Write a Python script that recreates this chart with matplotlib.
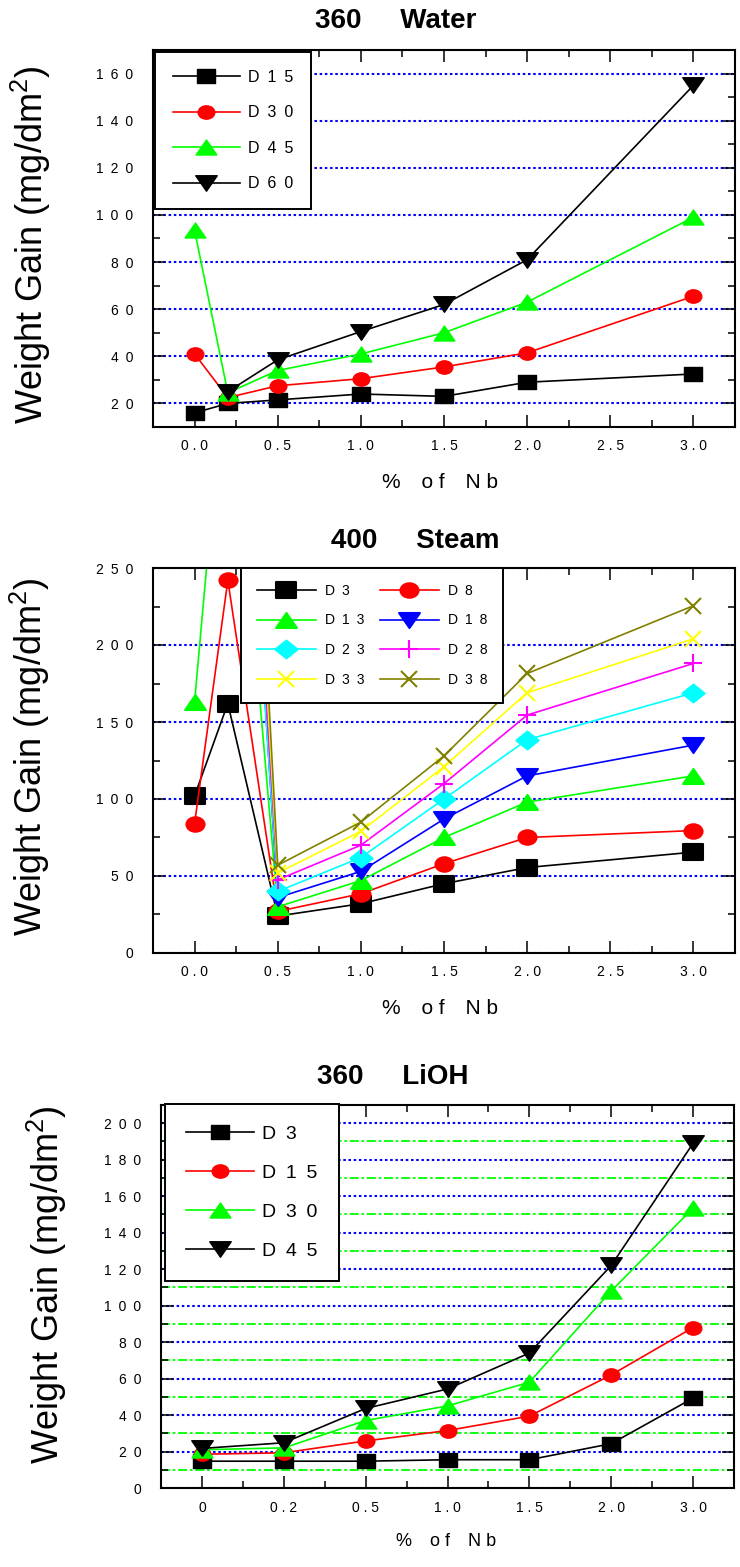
import numpy as np
import matplotlib
matplotlib.use("Agg")
import matplotlib.pyplot as plt
from matplotlib.markers import MarkerStyle
from matplotlib.path import Path
from matplotlib.ticker import MultipleLocator, FixedLocator, FuncFormatter

plt.rcParams['font.family'] = ['Liberation Sans', 'DejaVu Sans']
plt.rcParams['mathtext.fontset'] = 'custom'
plt.rcParams['mathtext.rm'] = 'Liberation Sans'

W, H = 740, 1567
nan = np.nan

# 360 C water
water_nb = [0.0, 0.2, 0.5, 1.0, 1.5, 2.0, 3.0]
water_labels = ['D15', 'D30', 'D45', 'D60']
water_d15 = [16, 20, 21.5, 24, 23, 29, 32.5]
water_d30 = [41, 22.5, 27.5, 30.5, 35.5, 41.5, 65.5]
water_d45 = [93.5, 24.5, 34, 41, 50, 63, 99]
water_d60 = [nan, 25, 38.5, 50.5, 62, 81, 155]

# 400 C steam
steam_nb = [0.0, 0.2, 0.5, 1.0, 1.5, 2.0, 3.0]
steam_labels = ['D3', 'D8', 'D13', 'D18', 'D23', 'D28', 'D33', 'D38']
steam_d3 = [102, 162, 24, 32, 45, 55.5, 65.5]
steam_d8 = [84, 242, 27, 38.5, 58, 75, 79.5]
steam_d13 = [163, 405, 30, 47, 75, 98, 115]
steam_d18 = [nan, 540, 36, 53, 87, 115, 135]
steam_d23 = [nan, 520, 40, 62, 100, 138.5, 169]
steam_d28 = [nan, 560, 47.5, 70, 110, 154.5, 188]
steam_d33 = [nan, 610, 52, 79, 121, 169, 204]
steam_d38 = [nan, 660, 57, 85, 128, 181.5, 225.5]

# 360 C LiOH
lioh_nb = ['0', '0.2', '0.5', '1.0', '1.5', '2.0', '3.0']
lioh_labels = ['D3', 'D15', 'D30', 'D45']
lioh_d3 = [14.7, 14.7, 14.7, 15.5, 15.5, 24.3, 49.3]
lioh_d15 = [18.5, 19.3, 25.8, 31.5, 39.4, 62, 88]
lioh_d30 = [21, 22, 37, 45, 58, 108, 153.5]
lioh_d45 = [21.7, 24.8, 43.6, 54.3, 74, 122, 189]


def fx(px):
    return px / W


def fy(py):
    return 1 - py / H


def squash(m, ry=0.75):
    """Marker path flattened vertically (the original markers are wider than tall)."""
    ms = MarkerStyle(m)
    p = ms.get_path().transformed(ms.get_transform())
    return Path(p.vertices * [1, ry], p.codes)


SQ = squash('s', 0.78)
CI = squash('o', 0.8)
UP = squash('^', 0.72)
DN = squash('v', 0.72)
DI = squash('D', 0.8)


def spaced(s, sep='\u2002'):
    return sep.join(s)


def style_axes(ax, labelsize=10):
    for sp in ax.spines.values():
        sp.set_linewidth(1.5)
    ax.tick_params(which='both', direction='in', top=True, right=True,
                   width=1.1, labelsize=labelsize)
    ax.tick_params(which='major', length=8.5)
    ax.tick_params(which='minor', length=5)
    ax.tick_params(axis='y', pad=14)
    ax.tick_params(axis='x', pad=9)
    ax.yaxis.set_major_formatter(FuncFormatter(lambda v, p: spaced(f"{v:g}")))


def blue_grid(ax, which='major'):
    ax.grid(True, axis='y', which=which, color='#0000ff', lw=1.5,
            linestyle=(0, (1.2, 1.3)))


fig = plt.figure(figsize=(W / 100, H / 100), dpi=100)

ylab = 'Weight Gain (mg/dm$^\\mathrm{2}$)'
xlab = '%\u2003o f\u2003N b'

# ---------------- 360 Water ----------------
ax1 = fig.add_axes([fx(153), fy(427), fx(582), 377 / H])
series = [(water_d15, 'k', SQ, 13), (water_d30, '#ff0000', CI, 12),
          (water_d45, '#00ff00', UP, 15), (water_d60, 'k', DN, 15.5)]
for (vals, c, m, ms), lab in zip(series, water_labels):
    ax1.plot(water_nb, vals, color=c, lw=1.2, marker=m, ms=ms, mfc=c, mec=c,
             label=spaced(lab))
ax1.set_xlim(-0.25, 3.25)
ax1.set_ylim(10, 170)
ax1.xaxis.set_major_locator(MultipleLocator(0.5))
ax1.xaxis.set_minor_locator(MultipleLocator(0.25))
ax1.yaxis.set_major_locator(MultipleLocator(20))
ax1.yaxis.set_minor_locator(MultipleLocator(10))
ax1.xaxis.set_major_formatter(FuncFormatter(lambda v, p: spaced(f"{v:.1f}", ' ')))
style_axes(ax1)
blue_grid(ax1)
leg = ax1.legend(loc='upper left', bbox_to_anchor=(fx(155), fy(52)),
                 bbox_transform=fig.transFigure, borderaxespad=0,
                 fontsize=11.5, handlelength=4.2, handletextpad=0.5,
                 labelspacing=1.29, borderpad=1.1, fancybox=False,
                 framealpha=1, edgecolor='k', numpoints=1)
leg.get_frame().set_linewidth(1.4)
fig.text(fx(396), fy(21), '360     Water', ha='center', va='center',
         fontsize=20, fontweight='bold')
fig.text(fx(31), fy(245), ylab, rotation=90, ha='center', va='center', fontsize=26)
fig.text(fx(440), fy(482), xlab, ha='center', va='center', fontsize=15)

# ---------------- 400 Steam ----------------
ax2 = fig.add_axes([fx(153), fy(953), fx(582), 385 / H])
series = [(steam_d3, 'k', SQ, 14), (steam_d8, '#ff0000', CI, 13),
          (steam_d13, '#00ff00', UP, 15), (steam_d18, '#0000ff', DN, 15),
          (steam_d23, '#00ffff', DI, 16), (steam_d28, '#ff00ff', '+', 13),
          (steam_d33, '#ffff00', 'x', 12), (steam_d38, '#808000', 'x', 12)]
handles = []
for (vals, c, m, ms), lab in zip(series, steam_labels):
    h, = ax2.plot(steam_nb, vals, color=c, lw=1.2, marker=m, ms=ms, mfc=c,
                  mec=c, mew=1.5, label=spaced(lab))
    handles.append(h)
ax2.set_xlim(-0.25, 3.25)
ax2.set_ylim(0, 250)
ax2.xaxis.set_major_locator(MultipleLocator(0.5))
ax2.xaxis.set_minor_locator(MultipleLocator(0.25))
ax2.yaxis.set_major_locator(MultipleLocator(50))
ax2.yaxis.set_minor_locator(MultipleLocator(25))
ax2.xaxis.set_major_formatter(FuncFormatter(lambda v, p: spaced(f"{v:.1f}", ' ')))
style_axes(ax2)
blue_grid(ax2)
order = handles[0::2] + handles[1::2]
leg = ax2.legend(order, [h.get_label() for h in order], ncol=2,
                 loc='upper left', bbox_to_anchor=(fx(241), fy(568)),
                 bbox_transform=fig.transFigure, borderaxespad=0,
                 fontsize=10, handlelength=4.3, handletextpad=0.6,
                 labelspacing=1.14, borderpad=1.12, columnspacing=1.1,
                 fancybox=False, framealpha=1, edgecolor='k', numpoints=1)
leg.get_frame().set_linewidth(1.4)
fig.text(fx(415), fy(541), '400     Steam', ha='center', va='center',
         fontsize=20, fontweight='bold')
fig.text(fx(30), fy(757), ylab, rotation=90, ha='center', va='center', fontsize=26)
fig.text(fx(440), fy(1009), xlab, ha='center', va='center', fontsize=15)

# ---------------- 360 LiOH ----------------
ax3 = fig.add_axes([fx(161), fy(1488), fx(573), 383 / H])
pos = np.arange(len(lioh_nb))
series = [(lioh_d3, 'k', SQ, 13), (lioh_d15, '#ff0000', CI, 12),
          (lioh_d30, '#00ff00', UP, 15), (lioh_d45, 'k', DN, 15.5)]
for (vals, c, m, ms), lab in zip(series, lioh_labels):
    ax3.plot(pos, vals, color=c, lw=1.2, marker=m, ms=ms, mfc=c, mec=c,
             label=spaced(lab))
ax3.set_xlim(-0.5, 6.5)
ax3.set_ylim(0, 210)
ax3.xaxis.set_major_locator(FixedLocator(pos))
ax3.xaxis.set_minor_locator(FixedLocator(pos[:-1] + 0.5))
ax3.set_xticklabels([spaced(t, ' ') for t in lioh_nb])
ax3.yaxis.set_major_locator(MultipleLocator(20))
ax3.yaxis.set_minor_locator(MultipleLocator(10))
style_axes(ax3)
blue_grid(ax3)
ax3.grid(True, axis='y', which='minor', color='#00ff00', lw=1.3,
         linestyle=(0, (5, 1.5, 1.5, 1.5)))
leg = ax3.legend(loc='upper left', bbox_to_anchor=(fx(165), fy(1104)),
                 bbox_transform=fig.transFigure, borderaxespad=0,
                 fontsize=14, handlelength=3.5, handletextpad=0.4,
                 labelspacing=1.1, borderpad=1.09, fancybox=False,
                 framealpha=1, edgecolor='k', numpoints=1)
leg.get_frame().set_linewidth(1.4)
fig.text(fx(393), fy(1077), '360     LiOH', ha='center', va='center',
         fontsize=20, fontweight='bold')
fig.text(fx(47), fy(1285), ylab, rotation=90, ha='center', va='center', fontsize=26)
fig.text(fx(446), fy(1541), xlab, ha='center', va='center', fontsize=13)

fig.savefig('out.png', dpi=100)
